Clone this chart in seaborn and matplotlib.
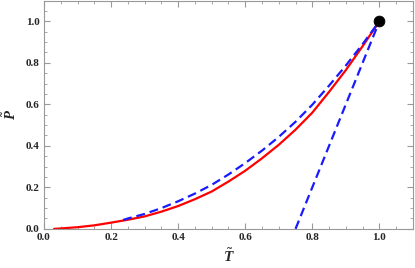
import numpy as np
import matplotlib
matplotlib.use("Agg")
import matplotlib.pyplot as plt
import pandas as pd
import seaborn as sns
from matplotlib.ticker import MultipleLocator

# values
t_red = [0.03, 0.05, 0.1, 0.15, 0.2, 0.25, 0.3, 0.35, 0.4, 0.45, 0.5, 0.55,
         0.6, 0.65, 0.7, 0.75, 0.8, 0.85, 0.9, 0.95, 1.0]
p_red = [0.0, 0.002, 0.008, 0.017, 0.03, 0.044, 0.06, 0.083, 0.11, 0.143, 0.18, 0.228,
         0.28, 0.34, 0.405, 0.478, 0.56, 0.66, 0.765, 0.88, 1.0]

t_blue = [0.236, 0.25, 0.3, 0.35, 0.4, 0.45, 0.5, 0.55, 0.6, 0.65, 0.7, 0.75,
          0.8, 0.85, 0.9, 0.95, 1.0]
p_blue = [0.043, 0.05, 0.072, 0.1, 0.133, 0.17, 0.212, 0.262, 0.317, 0.377, 0.443, 0.516,
          0.598, 0.69, 0.787, 0.89, 1.0]

t_line = [0.75, 1.0]
p_line = [0.0, 1.0]

t_crit = [1.0]
p_crit = [1.0]

sns.set_style("ticks")
plt.rcParams['font.family'] = ['Liberation Serif', 'DejaVu Serif']
plt.rcParams['font.weight'] = 'bold'
plt.rcParams['mathtext.fontset'] = 'custom'
plt.rcParams['mathtext.it'] = 'Liberation Serif:italic:bold'
plt.rcParams['mathtext.rm'] = 'Liberation Serif:bold'

fig = plt.figure(figsize=(4.15, 2.68), dpi=100)
ax = fig.add_axes([0.106, 0.146, 0.889, 0.852])

red = pd.DataFrame({'T': t_red, 'P': p_red})
blue = pd.DataFrame({'T': t_blue, 'P': p_blue})

sns.lineplot(data=red, x='T', y='P', color='red', lw=1.6, ax=ax, sort=False)
sns.lineplot(data=blue, x='T', y='P', color='#1a1aff', lw=1.6, ax=ax, sort=False,
             linestyle=(0, (4, 2.2)))
sns.lineplot(x=t_line, y=p_line, color='#1a1aff', lw=1.6, ax=ax,
             linestyle=(0, (4, 2.2)))
sns.scatterplot(x=t_crit, y=p_crit, color='black', s=60, ax=ax, zorder=5,
                edgecolor='black', clip_on=False)

ax.set_xlim(0, 1.1)
ax.set_ylim(0, 1.1)
ax.xaxis.set_major_locator(MultipleLocator(0.2))
ax.yaxis.set_major_locator(MultipleLocator(0.2))
ax.xaxis.set_minor_locator(MultipleLocator(0.05))
ax.yaxis.set_minor_locator(MultipleLocator(0.05))
ax.xaxis.set_major_formatter(lambda v, pos: f"{v:.1f}")
ax.yaxis.set_major_formatter(lambda v, pos: f"{v:.1f}")

ax.tick_params(which='both', direction='in', top=True, right=True,
               color='#999999', labelsize=8, pad=3)
ax.tick_params(which='major', length=4, width=0.8)
ax.tick_params(which='minor', length=2, width=0.6)
for s in ax.spines.values():
    s.set_color('#999999')
    s.set_linewidth(0.8)

ax.set_xlabel(r'$\tilde{T}$', fontsize=11, labelpad=4)
ax.set_ylabel(r'$\tilde{P}$', fontsize=10.5, labelpad=5)

fig.savefig('out.png', dpi=100)
